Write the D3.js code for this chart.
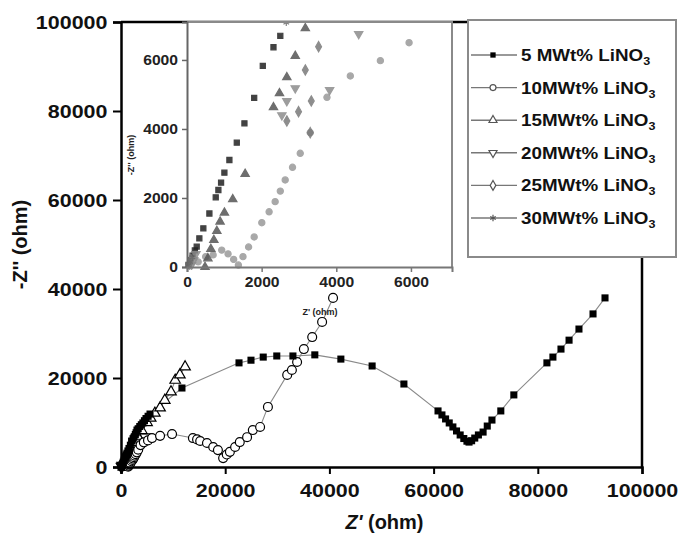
<!DOCTYPE html>
<html>
<head>
<meta charset="utf-8">
<script src="https://cdn.jsdelivr.net/npm/d3@7/dist/d3.min.js"></script>
<style>
  html, body { margin: 0; padding: 0; background: #fff; }
  svg { display: block; font-family: "Liberation Sans", Arial, sans-serif; }
</style>
</head>
<body>
<svg id="chart" width="678" height="536"></svg>
<script>
// Nyquist plots of the polymer electrolytes at different LiNO3 loadings
const seriesNames = ["5 MWt% LiNO", "10MWt% LiNO", "15MWt% LiNO", "20MWt% LiNO", "25MWt% LiNO", "30MWt% LiNO"];

const s5 = [[40,60],[90,200],[150,330],[210,480],[260,589],[331,831],[438,1121],[600,1550],[770,2020],[841,2232],[913,2444],[1002,2733],[1136,3101],[1334,3603],[1539,4164],[1800,4900],[2031,5826],[2317,6368],[2500,6700],[2750,7300],[2900,7700],[3070,8300],[3300,8600],[3600,9100],[3900,9500],[4200,9900],[4500,10400],[4800,10900],[5200,11400],[5570,11900],[11700,17750],[22650,23400],[24950,24000],[27300,24700],[29900,24950],[33000,24950],[37200,25200],[42200,24250],[48200,22700],[54300,18650],[60850,12600],[61600,11700],[62300,10800],[63000,9900],[63700,9000],[64400,8100],[65100,7200],[65800,6400],[66400,5800],[66800,5600],[67300,5900],[67900,6500],[68600,7200],[69500,7850],[70300,9200],[71200,10550],[72900,12600],[75400,16200],[81750,23400],[82900,24700],[84450,26500],[86000,28500],[87900,31000],[90600,34400],[92900,38000]];

const s10 = [[300,150],[500,300],[700,350],[930,490],[1100,380],[1250,220],[1377,57],[1500,300],[1650,580],[1800,870],[2004,1284],[2200,1600],[2362,1894],[2500,2200],[2631,2522],[2827,2889],[3034,3295],[3302,3893],[3750,4918],[4376,5536],[5181,5980],[5950,6500],[7500,7000],[9800,7400],[13800,6500],[14600,6200],[15200,5850],[16500,5400],[17700,4500],[18600,3800],[19600,2000],[20300,2800],[20900,3400],[21900,4500],[22800,5600],[24200,6700],[25300,8300],[26700,9000],[28200,13500],[31900,20700],[32800,21800],[33800,23600],[35100,26500],[36700,29200],[38600,32600],[40700,38000]];

const s15 = [[483,0],[560,250],[640,520],[720,780],[800,1040],[886,1313],[1002,1574],[1226,1962],[1557,2696],[2317,4629],[2478,5034],[2675,5497],[2900,6116],[3170,6918],[4000,8200],[5000,10000],[5700,11000],[6500,12100],[7500,13300],[8400,15000],[9600,16900],[10400,19500],[11300,20700],[12300,22500]];

const s20 = [[120,60],[180,200],[240,380],[2541,4400],[2675,4810],[2900,5180],[3821,5130],[4600,6754]];

const s25 = [[60,80],[100,220],[2675,4232],[2989,4502],[3302,3893],[3330,4810],[3170,5710],[3526,6386]];

const s30 = [[30,50],[80,150],[140,280],[2660,7080]];

const mainTicks = [0, 20000, 40000, 60000, 80000, 100000];
const insetTicks = [0, 2000, 4000, 6000];

const allSeries = [s5, s10, s15, s20, s25, s30];

const svg = d3.select("#chart");

// ---- symbol definitions per series ----
const symbolDefs = [
  { type: d3.symbolSquare,   size: 50, fill: "#000", rot: 0 },
  { type: d3.symbolCircle,   size: 62, fill: "#fff", rot: 0 },
  { type: d3.symbolTriangle, size: 48, fill: "#fff", rot: 0 },
  { type: d3.symbolTriangle, size: 48, fill: "#fff", rot: 180 },
  { type: d3.symbolDiamond,  size: 48, fill: "#fff", rot: 0 },
  { type: d3.symbolAsterisk, size: 48, fill: "none", rot: 0 }
];
const insetColors = ["#222", "#9a9a9a", "#555", "#8c8c8c", "#7a7a7a", "#6a6a6a"];

// ---- main plot ----
const x = d3.scaleLinear().domain([0, 100000]).range([121, 642]);
const y = d3.scaleLinear().domain([0, 100000]).range([467, 22]);

const defs = svg.append("defs");
defs.append("clipPath").attr("id", "mainClip")
  .append("rect").attr("x", 115).attr("y", 16).attr("width", 533).attr("height", 457);

const mainG = svg.append("g").attr("clip-path", "url(#mainClip)");
const line = d3.line().x(d => x(d[0])).y(d => y(d[1]));

allSeries.forEach((data) => {
  mainG.append("path").datum(data)
    .attr("d", line)
    .attr("fill", "none")
    .attr("stroke", "#8a8a8a")
    .attr("stroke-width", 1.1);
});
// markers: open symbols first, the filled 5 wt% squares on top
[5, 4, 3, 2, 1, 0].forEach(i => {
  const data = allSeries[i];
  const sd = symbolDefs[i];
  mainG.selectAll(null).data(data).enter().append("path")
    .attr("d", d3.symbol().type(sd.type).size(sd.size))
    .attr("transform", d => `translate(${x(d[0])},${y(d[1])}) rotate(${sd.rot})`)
    .attr("fill", sd.fill)
    .attr("stroke", "#000")
    .attr("stroke-width", i === 0 ? 0 : 1.2);
});

// frame
svg.append("path")
  .attr("d", `M${x(0)},${y(100000)}H${x(100000)}V${y(0)}`)
  .attr("fill", "none").attr("stroke", "#000").attr("stroke-width", 2.5);

// bold, slightly wide tick numerals
const axisFont = g => g.selectAll("text")
  .attr("font-size", 19).attr("font-weight", "bold").attr("fill", "#111")
  .attr("transform", "scale(1.13,1)");

svg.append("g")
  .attr("transform", `translate(${x(0)},0)`)
  .call(d3.axisLeft(y).tickValues(mainTicks).tickFormat(d3.format("d")).tickSize(8).tickPadding(4))
  .call(g => g.select(".domain").attr("stroke-width", 2.5))
  .call(g => g.selectAll(".tick line").attr("stroke-width", 2))
  .call(axisFont);

svg.append("g")
  .attr("transform", `translate(0,${y(0)})`)
  .call(d3.axisBottom(x).tickValues(mainTicks).tickFormat(d3.format("d")).tickSize(7).tickPadding(10))
  .call(g => g.select(".domain").attr("stroke-width", 2.5))
  .call(g => g.selectAll(".tick line").attr("stroke-width", 2))
  .call(axisFont);

// axis titles
svg.append("text")
  .attr("transform", `translate(27,${(y(0) + y(100000)) / 2}) rotate(-90)`)
  .attr("text-anchor", "middle")
  .attr("font-size", 20).attr("font-weight", "bold").attr("fill", "#111")
  .text("-Z'' (ohm)");

const xt = svg.append("text")
  .attr("x", (x(0) + x(100000)) / 2 + 3).attr("y", 529)
  .attr("text-anchor", "middle")
  .attr("font-size", 20).attr("font-weight", "bold").attr("fill", "#111");
xt.append("tspan").attr("font-style", "italic").text("Z'");
xt.append("tspan").text(" (ohm)");

// ---- inset ----
const xi = d3.scaleLinear().domain([0, 7100]).range([187, 452]);
const yi = d3.scaleLinear().domain([0, 7100]).range([267, 22]);

svg.append("rect").attr("x", 187).attr("y", 22).attr("width", 265).attr("height", 245)
  .attr("fill", "#fff");

defs.append("clipPath").attr("id", "insetClip")
  .append("rect").attr("x", 184).attr("y", 22).attr("width", 268).attr("height", 248);

const insetG = svg.append("g").attr("clip-path", "url(#insetClip)");
allSeries.forEach((data, i) => {
  const sd = symbolDefs[i];
  insetG.selectAll(null).data(data).enter().append("path")
    .attr("d", d3.symbol().type(sd.type).size(i === 0 ? 26 : 30))
    .attr("transform", d => `translate(${xi(d[0])},${yi(d[1])}) rotate(${sd.rot})`)
    .attr("fill", insetColors[i])
    .attr("stroke", insetColors[i])
    .attr("stroke-width", 1.2)
    .attr("opacity", 0.85);
});

svg.append("path")
  .attr("d", `M${xi(0)},${yi(7100)}H${xi(7100)}V${yi(0)}`)
  .attr("fill", "none").attr("stroke", "#8a8a8a").attr("stroke-width", 2);

const insetFont = g => g.selectAll("text")
  .attr("font-size", 14).attr("font-weight", "bold").attr("fill", "#222")
  .attr("transform", "scale(1.12,1)");

svg.append("g")
  .attr("transform", `translate(${xi(0)},0)`)
  .call(d3.axisLeft(yi).tickValues(insetTicks).tickFormat(d3.format("d")).tickSize(5).tickPadding(3))
  .call(g => g.select(".domain").attr("stroke", "#666").attr("stroke-width", 2))
  .call(g => g.selectAll(".tick line").attr("stroke", "#666").attr("stroke-width", 1.5))
  .call(insetFont);

svg.append("g")
  .attr("transform", `translate(0,${yi(0)})`)
  .call(d3.axisBottom(xi).tickValues(insetTicks).tickFormat(d3.format("d")).tickSize(5).tickPadding(5))
  .call(g => g.select(".domain").attr("stroke", "#777").attr("stroke-width", 2))
  .call(g => g.selectAll(".tick line").attr("stroke", "#777").attr("stroke-width", 1.5))
  .call(insetFont);

svg.append("text")
  .attr("transform", `translate(134,155) rotate(-90)`)
  .attr("text-anchor", "middle")
  .attr("font-size", 9).attr("font-weight", "bold").attr("fill", "#222")
  .text("-Z'' (ohm)");

svg.append("text")
  .attr("x", 320).attr("y", 315)
  .attr("text-anchor", "middle")
  .attr("font-size", 9).attr("font-weight", "bold").attr("fill", "#222")
  .text("Z' (ohm)");

// ---- legend ----
const lg = svg.append("g");
lg.append("rect").attr("x", 468).attr("y", 20).attr("width", 208).attr("height", 237)
  .attr("fill", "#fff").attr("stroke", "#8a8a8a").attr("stroke-width", 2);

const legendY = d3.scalePoint().domain(d3.range(seriesNames.length)).range([55, 218]);
seriesNames.forEach((name, i) => {
  const cy = legendY(i);
  const sd = symbolDefs[i];
  lg.append("line").attr("x1", 471).attr("x2", 517).attr("y1", cy).attr("y2", cy)
    .attr("stroke", "#777").attr("stroke-width", 1.4);
  lg.append("path")
    .attr("d", d3.symbol().type(sd.type).size(28))
    .attr("transform", `translate(493,${cy}) rotate(${sd.rot})`)
    .attr("fill", i === 0 ? "#000" : (i === 5 ? "none" : "#fff"))
    .attr("stroke", i === 0 ? "none" : "#555")
    .attr("stroke-width", 1.2);
  const t = lg.append("text")
    .attr("transform", `translate(521,${cy + 6}) scale(1.14,1)`)
    .attr("font-size", 16.5).attr("font-weight", "bold").attr("fill", "#111");
  t.append("tspan").text(name);
  t.append("tspan").attr("font-size", 11).attr("dy", 4).text("3");
});
</script>
</body>
</html>
